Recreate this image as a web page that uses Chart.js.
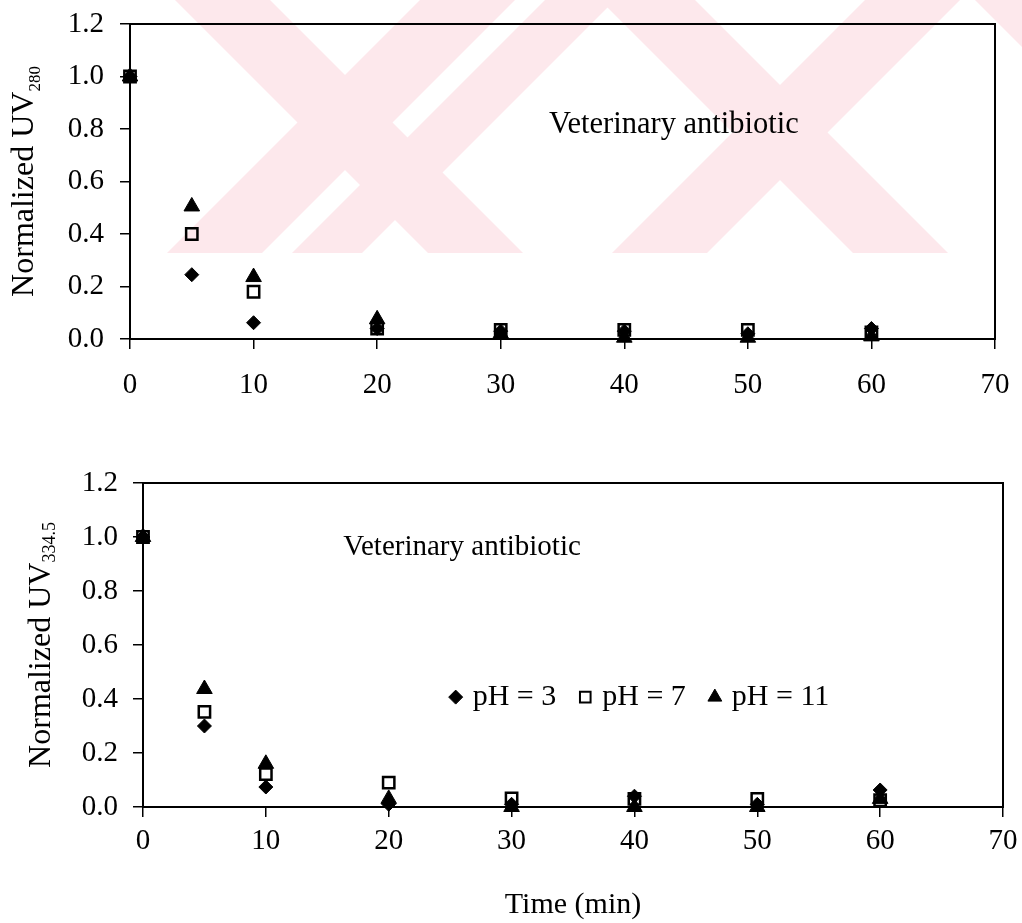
<!DOCTYPE html>
<html>
<head>
<meta charset="utf-8">
<script src="https://cdn.jsdelivr.net/npm/chart.js@4.4.0/dist/chart.umd.min.js"></script>
<style>
  body { margin: 0; background: #fff; width: 1022px; height: 923px; overflow: hidden; }
  .box { position: absolute; left: 0; width: 1022px; }
  #top { top: 0; height: 440px; }
  #bottom { top: 440px; height: 483px; }
</style>
</head>
<body>
<div class="box" id="top"><canvas id="c1"></canvas></div>
<div class="box" id="bottom"><canvas id="c2"></canvas></div>
<script>
'use strict'

const times = [0, 5, 10, 20, 30, 40, 50, 60]
const xTicks = [0, 10, 20, 30, 40, 50, 60, 70]
const yTicks = [0, 0.2, 0.4, 0.6, 0.8, 1.0, 1.2]
const seriesNames = ['pH = 3', 'pH = 7', 'pH = 11']

// normalized UV 280
const uv280_pH3 = [1.0, 0.245, 0.062, 0.04, 0.03, 0.03, 0.02, 0.04]
const uv280_pH7 = [1.0, 0.40, 0.18, 0.04, 0.035, 0.035, 0.035, 0.025]
const uv280_pH11 = [1.0, 0.505, 0.236, 0.075, 0.02, 0.005, 0.005, 0.01]

// normalized UV 334.5
const uv334_pH3 = [1.0, 0.30, 0.074, 0.01, 0.01, 0.04, 0.01, 0.063]
const uv334_pH7 = [1.0, 0.352, 0.122, 0.09, 0.032, 0.03, 0.03, 0.025]
const uv334_pH11 = [1.0, 0.437, 0.16, 0.03, 0.0, 0.0, 0.0, 0.03]

const SERIF = "'Liberation Serif', 'Times New Roman', serif"

const toPoints = (arr) => times.map((t, i) => ({x: t, y: arr[i]}))

function makeDatasets(a, b, c) {
    return [
        {label: seriesNames[0], data: toPoints(a), pointStyle: 'rectRot', pointRadius: 7,
         backgroundColor: '#000', borderColor: '#000', borderWidth: 1, clip: false, order: 1},
        {label: seriesNames[1], data: toPoints(b), pointStyle: 'rect', pointRadius: 8,
         backgroundColor: 'rgba(0,0,0,0)', borderColor: '#000', borderWidth: 2.5, clip: false, order: 3},
        {label: seriesNames[2], data: toPoints(c), pointStyle: 'triangle', pointRadius: 9,
         backgroundColor: '#000', borderColor: '#000', borderWidth: 1, clip: false, order: 2}
    ]
}

// faint pink watermark stripes behind the upper plot
const watermarkPlugin = {
    id: 'watermark',
    beforeDraw(chart, args, opts) {
        if (!opts.bands) return
        const {ctx} = chart
        const h = opts.height
        ctx.save()
        ctx.beginPath()
        ctx.rect(opts.left, 0, chart.width - opts.left, h)
        ctx.clip()
        ctx.fillStyle = '#fde8ec'
        for (const [x0, dir, w] of opts.bands) {
            ctx.beginPath()
            ctx.moveTo(x0, 0)
            ctx.lineTo(x0 + w, 0)
            ctx.lineTo(x0 + w + dir * h, h)
            ctx.lineTo(x0 + dir * h, h)
            ctx.closePath()
            ctx.fill()
        }
        ctx.restore()
    }
}

// frame round the plot area
const framePlugin = {
    id: 'frame',
    afterDraw(chart) {
        const {ctx, chartArea: a} = chart
        ctx.save()
        ctx.strokeStyle = '#000'
        ctx.lineWidth = 2
        ctx.strokeRect(a.left, a.top, a.right - a.left, a.bottom - a.top)
        ctx.restore()
    }
}

// text note placed at data coordinates
const notePlugin = {
    id: 'note',
    afterDatasetsDraw(chart, args, opts) {
        const {ctx, scales: {x, y}} = chart
        ctx.save()
        ctx.font = opts.font
        ctx.fillStyle = '#000'
        ctx.textBaseline = 'middle'
        ctx.fillText(opts.text, x.getPixelForValue(opts.at[0]), y.getPixelForValue(opts.at[1]))
        ctx.restore()
    }
}

// one-line legend inside the plot, using the datasets' own marker styles
const inLegendPlugin = {
    id: 'inLegend',
    afterDatasetsDraw(chart, args, opts) {
        if (!opts.at) return
        const {ctx, scales: {x, y}} = chart
        let cx = x.getPixelForValue(opts.at[0])
        const cy = y.getPixelForValue(opts.at[1])
        ctx.save()
        ctx.font = opts.font
        ctx.textBaseline = 'middle'
        chart.data.datasets.forEach((ds, i) => {
            ctx.fillStyle = ds.backgroundColor
            ctx.strokeStyle = ds.borderColor
            ctx.lineWidth = opts.lineWidth[i]
            Chart.helpers.drawPoint(ctx, {pointStyle: ds.pointStyle, radius: opts.radius[i],
                rotation: 0, borderWidth: opts.lineWidth[i]}, cx + 8, cy)
            ctx.fillStyle = '#000'
            ctx.fillText(ds.label, cx + 25, cy)
            cx += 25 + ctx.measureText(ds.label).width + 21
        })
        ctx.restore()
    }
}

// y title with a subscript
const yTitlePlugin = {
    id: 'yTitle',
    afterDraw(chart, args, opts) {
        const {ctx, chartArea: a} = chart
        ctx.save()
        ctx.fillStyle = '#000'
        ctx.translate(opts.baseX, (a.top + a.bottom) / 2)
        ctx.rotate(-Math.PI / 2)
        ctx.font = `${opts.size}px ${SERIF}`
        const wMain = ctx.measureText(opts.main).width
        ctx.font = `${opts.subSize}px ${SERIF}`
        const wSub = ctx.measureText(opts.sub).width
        const start = -(wMain + wSub) / 2
        ctx.textBaseline = 'alphabetic'
        ctx.font = `${opts.size}px ${SERIF}`
        ctx.fillText(opts.main, start, 0)
        ctx.font = `${opts.subSize}px ${SERIF}`
        ctx.fillText(opts.sub, start + wMain, opts.subShift)
        ctx.restore()
    }
}

function makeOptions(cfg) {
    return {
        responsive: true,
        maintainAspectRatio: false,
        animation: false,
        layout: {padding: cfg.padding},
        scales: {
            x: {
                type: 'linear', min: 0, max: 70,
                afterFit: (s) => { s.height = cfg.xHeight; s.paddingLeft = 0; s.paddingRight = 0 },
                afterBuildTicks: (s) => { s.ticks = xTicks.map(v => ({value: v})) },
                grid: {drawOnChartArea: false, drawTicks: true, tickLength: 10, color: '#000', lineWidth: 1.5},
                border: {display: true, color: '#000', width: 2},
                ticks: {color: '#000', padding: cfg.xPad, maxRotation: 0, font: {family: SERIF, size: cfg.tickSize}},
                title: cfg.xTitle ? {display: true, text: cfg.xTitle, color: '#000',
                    font: {family: SERIF, size: 30}, padding: {top: 0, bottom: 0}} : {display: false}
            },
            y: {
                type: 'linear', min: 0, max: 1.2,
                afterFit: (s) => { s.width = cfg.yWidth; s.paddingTop = 0; s.paddingBottom = 0 },
                afterBuildTicks: (s) => { s.ticks = yTicks.map(v => ({value: v})) },
                grid: {drawOnChartArea: false, drawTicks: true, tickLength: 10, color: '#000', lineWidth: 1.5},
                border: {display: true, color: '#000', width: 2},
                ticks: {color: '#000', padding: cfg.yPad, font: {family: SERIF, size: cfg.tickSize},
                    callback: (v) => Number(v).toFixed(1)}
            }
        },
        plugins: {
            legend: {display: false},
            tooltip: {enabled: false},
            watermark: cfg.watermark || {},
            note: cfg.note,
            yTitle: cfg.yTitle,
            inLegend: cfg.legend || {}
        }
    }
}

const plugins = [watermarkPlugin, framePlugin, notePlugin, inLegendPlugin, yTitlePlugin]

new Chart(document.getElementById('c1'), {
    type: 'scatter',
    data: {datasets: makeDatasets(uv280_pH3, uv280_pH7, uv280_pH11)},
    options: makeOptions({
        padding: {top: 24, right: 27, left: 0, bottom: 0},
        xHeight: 101, yWidth: 130, xPad: 19, yPad: 16, tickSize: 29,
        watermark: {left: 140, height: 253, bands: [
            [175, 1, 95], [420, -1, 95], [545, -1, 70], [600, 1, 95], [865, -1, 95], [975, 1, 85]
        ]},
        note: {text: 'Veterinary antibiotic', at: [33.9, 0.815], font: `30.5px ${SERIF}`},
        yTitle: {main: 'Normalized UV', sub: '280', baseX: 33, size: 32, subSize: 17, subShift: 7}
    }),
    plugins: plugins
})

new Chart(document.getElementById('c2'), {
    type: 'scatter',
    data: {datasets: makeDatasets(uv334_pH3, uv334_pH7, uv334_pH11)},
    options: makeOptions({
        padding: {top: 43, right: 19, left: 0, bottom: 0},
        xHeight: 116, yWidth: 143, xPad: 7, yPad: 15, tickSize: 29,
        xTitle: 'Time (min)',
        legend: {at: [24.8, 0.407], font: `30px ${SERIF}`, radius: [7, 7.5, 8], lineWidth: [1, 2, 1]},
        note: {text: 'Veterinary antibiotic', at: [16.3, 0.96], font: `29px ${SERIF}`},
        yTitle: {main: 'Normalized UV', sub: '334.5', baseX: 50, size: 32, subSize: 18, subShift: 5}
    }),
    plugins: plugins
})
</script>
</body>
</html>
